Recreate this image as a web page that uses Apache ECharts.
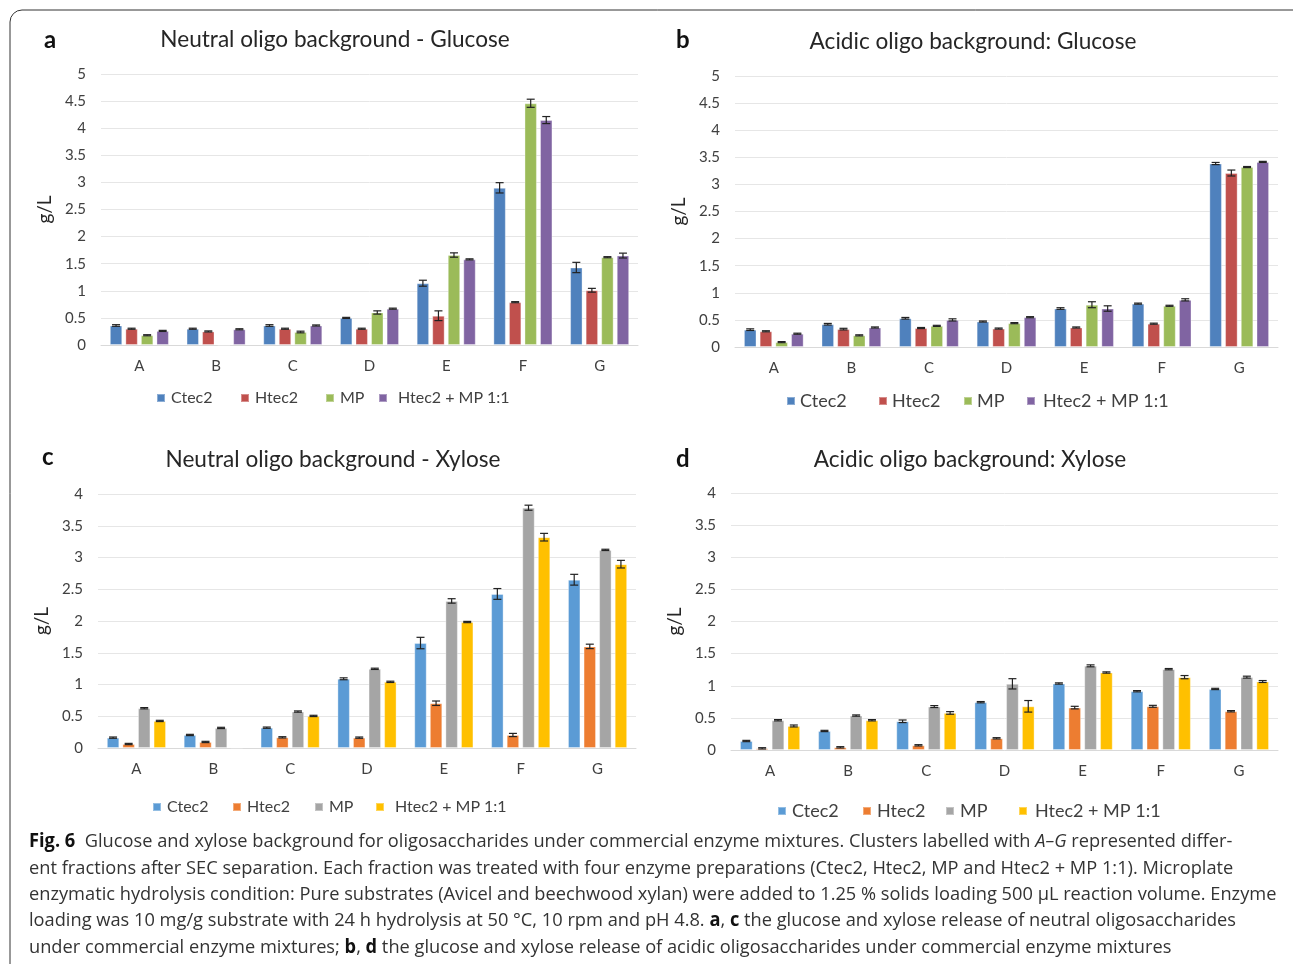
<!DOCTYPE html>
<html>
<head>
<meta charset="utf-8">
<script src="https://cdn.jsdelivr.net/npm/echarts@6/dist/echarts.min.js"></script>
<style>
  html, body { margin: 0; padding: 0; background: #fff; }
  #main { width: 1293px; height: 964px; }
</style>
</head>
<body>
<div id="main"></div>
<script>
const categories = ['A', 'B', 'C', 'D', 'E', 'F', 'G'];
const seriesNames = ['Ctec2', 'Htec2', 'MP', 'Htec2 + MP 1:1'];

// a: neutral oligo background - glucose
const aCtec2 = [0.36, 0.30, 0.36, 0.50, 1.14, 2.90, 1.43];
const aHtec2 = [0.30, 0.25, 0.30, 0.30, 0.54, 0.79, 1.01];
const aMP    = [0.18, 0.00, 0.24, 0.60, 1.66, 4.46, 1.62];
const aHMP   = [0.26, 0.29, 0.36, 0.67, 1.58, 4.15, 1.65];
const aErr = [
  [0.015, 0.01, 0.015, 0.01, 0.055, 0.095, 0.095],
  [0.01, 0.01, 0.01, 0.01, 0.09, 0.01, 0.035],
  [0.01, 0, 0.015, 0.03, 0.04, 0.075, 0.01],
  [0.01, 0.01, 0.01, 0.01, 0.01, 0.065, 0.045]
];

// b: acidic oligo background - glucose
const bCtec2 = [0.32, 0.42, 0.53, 0.47, 0.71, 0.80, 3.385];
const bHtec2 = [0.29, 0.33, 0.35, 0.34, 0.36, 0.43, 3.21];
const bMP    = [0.09, 0.215, 0.39, 0.44, 0.78, 0.76, 3.32];
const bHMP   = [0.245, 0.36, 0.50, 0.55, 0.71, 0.87, 3.415];
const bErr = [
  [0.015, 0.015, 0.015, 0.01, 0.015, 0.01, 0.02],
  [0.01, 0.015, 0.01, 0.01, 0.01, 0.01, 0.055],
  [0.01, 0.01, 0.01, 0.01, 0.055, 0.01, 0.01],
  [0.01, 0.01, 0.02, 0.01, 0.05, 0.02, 0.01]
];

// c: neutral oligo background - xylose
const cCtec2 = [0.163, 0.205, 0.32, 1.09, 1.653, 2.426, 2.65];
const cHtec2 = [0.063, 0.095, 0.168, 0.163, 0.705, 0.205, 1.60];
const cMP    = [0.626, 0.316, 0.574, 1.247, 2.316, 3.784, 3.12];
const cHMP   = [0.426, 0.005, 0.505, 1.042, 1.984, 3.32, 2.895];
const cErr = [
  [0.01, 0.01, 0.01, 0.015, 0.09, 0.085, 0.085],
  [0.01, 0.01, 0.01, 0.01, 0.035, 0.025, 0.035],
  [0.01, 0.01, 0.01, 0.01, 0.035, 0.04, 0.01],
  [0.01, 0.005, 0.01, 0.01, 0.01, 0.06, 0.06]
];

// d: acidic oligo background - xylose
const dCtec2 = [0.14, 0.296, 0.447, 0.744, 1.035, 0.915, 0.95];
const dHtec2 = [0.026, 0.042, 0.073, 0.182, 0.66, 0.68, 0.603];
const dMP    = [0.463, 0.536, 0.676, 1.03, 1.31, 1.258, 1.134];
const dHMP   = [0.374, 0.463, 0.577, 0.68, 1.206, 1.134, 1.066];
const dErr = [
  [0.01, 0.01, 0.02, 0.01, 0.01, 0.01, 0.01],
  [0.01, 0.01, 0.01, 0.01, 0.02, 0.015, 0.01],
  [0.01, 0.01, 0.015, 0.08, 0.015, 0.01, 0.015],
  [0.015, 0.01, 0.02, 0.09, 0.01, 0.025, 0.015]
];

const oldColors = ['#4F81BD', '#C0504D', '#9BBB59', '#8064A2'];
const newColors = ['#5B9BD5', '#ED7D31', '#A5A5A5', '#FFC000'];

const FONT = 'Lato';
const CAT_GAP = 0.23;
const BAR_GAP = 0.25;

const panels = [
  { key: 'a', title: 'Neutral oligo background - Glucose', colors: oldColors,
    data: [aCtec2, aHtec2, aMP, aHMP], err: aErr, max: 5,
    grid: { left: 101, top: 74, width: 537, height: 271 }, titleX: 330, titleY: 23, letterX: 39, letterY: 23,
    legendFont: 16, legendY: 397, legendX: [156, 240, 325, 378], legendPad: [1, 1, 1, 6] },
  { key: 'b', title: 'Acidic oligo background: Glucose', colors: oldColors,
    data: [bCtec2, bHtec2, bMP, bHMP], err: bErr, max: 5,
    grid: { left: 735, top: 76, width: 543, height: 271 }, titleX: 968, titleY: 25, letterX: 671, letterY: 23,
    legendFont: 18, legendY: 400, legendX: [786, 878, 963, 1026], legendPad: [0, 0, 0, 3] },
  { key: 'c', title: 'Neutral oligo background - Xylose', colors: newColors,
    data: [cCtec2, cHtec2, cMP, cHMP], err: cErr, max: 4,
    grid: { left: 98, top: 494, width: 538, height: 254 }, titleX: 328, titleY: 443, letterX: 37, letterY: 440,
    legendFont: 16, legendY: 806, legendX: [152, 232, 314, 375], legendPad: [1, 1, 1, 6] },
  { key: 'd', title: 'Acidic oligo background: Xylose', colors: newColors,
    data: [dCtec2, dHtec2, dMP, dHMP], err: dErr, max: 4,
    grid: { left: 731, top: 493, width: 547, height: 257 }, titleX: 965, titleY: 443, letterX: 671, letterY: 442,
    legendFont: 18, legendY: 810, legendX: [777, 862, 945, 1018], legendPad: [1, 1, 1, 3] }
];

const grid = [], xAxis = [], yAxis = [], series = [], title = [], legend = [];

panels.forEach((p, pi) => {
  grid.push(Object.assign({ containLabel: false }, p.grid));
  xAxis.push({
    type: 'category', gridIndex: pi, data: categories,
    axisTick: { show: false },
    axisLine: { lineStyle: { color: '#D9D9D9', width: 1 } },
    axisLabel: { color: '#404040', fontSize: 15, fontFamily: FONT, margin: 14 }
  });
  yAxis.push({
    type: 'value', gridIndex: pi, min: 0, max: p.max, interval: 0.5,
    name: 'g/L', nameLocation: 'middle', nameRotate: 90, nameGap: 47,
    nameTextStyle: { color: '#262626', fontSize: 19, fontFamily: FONT },
    axisLine: { show: false }, axisTick: { show: false },
    splitLine: { lineStyle: { color: '#E6E6E6', width: 1 } },
    axisLabel: { color: '#404040', fontSize: 15, fontFamily: FONT, margin: 15 }
  });
  title.push({
    text: p.title, left: p.titleX, top: p.titleY, textAlign: 'center',
    textStyle: { fontSize: 22.6, fontWeight: 'normal', color: '#262626', fontFamily: FONT }
  });
  title.push({
    text: p.key, left: p.letterX, top: p.letterY,
    textStyle: { fontSize: 24, fontWeight: 'bold', color: '#111', fontFamily: FONT }
  });
  seriesNames.forEach((n, si) => {
    legend.push({
      left: p.legendX[si], top: p.legendY - (p.legendFont === 16 ? 12 : 13),
      itemWidth: 8, itemHeight: 8, icon: 'rect', selectedMode: false, padding: [5, 0, 5, 0],
      data: [p.key + si],
      formatter: () => n,
      textStyle: { fontSize: p.legendFont, color: '#404040', fontFamily: FONT, padding: [0, 0, 0, p.legendPad[si]] }
    });
  });
  p.data.forEach((vals, si) => {
    series.push({
      name: p.key + si, type: 'bar', xAxisIndex: pi, yAxisIndex: pi,
      data: vals, barCategoryGap: (CAT_GAP * 100) + '%', barGap: (BAR_GAP * 100) + '%',
      itemStyle: { color: p.colors[si], borderColor: 'rgba(255,255,255,0.35)', borderWidth: 1 },
      silent: true, animation: false
    });
  });
  p.data.forEach((vals, si) => {
    const errs = p.err[si];
    series.push({
      type: 'custom', xAxisIndex: pi, yAxisIndex: pi, silent: true, animation: false, z: 5,
      data: vals.map((v, i) => [i, v, errs[i]]),
      renderItem: (params, api) => {
        const band = api.size([1, 0])[0];
        const groupW = band * (1 - CAT_GAP);
        const w = groupW / (4 + 3 * BAR_GAP);
        const off = -groupW / 2 + w / 2 + si * w * (1 + BAR_GAP);
        const c = api.coord([api.value(0), api.value(1)]);
        const e = api.value(2);
        if (api.value(1) <= 0.006) return null;
        const hi = api.coord([api.value(0), api.value(1) + e])[1];
        const lo = api.coord([api.value(0), api.value(1) - e])[1];
        const x = c[0] + off;
        const cap = 4;
        const st = { stroke: '#222', lineWidth: 1.2 };
        return {
          type: 'group', children: [
            { type: 'line', shape: { x1: x, y1: hi, x2: x, y2: lo }, style: st },
            { type: 'line', shape: { x1: x - cap, y1: hi, x2: x + cap, y2: hi }, style: st },
            { type: 'line', shape: { x1: x - cap, y1: lo, x2: x + cap, y2: lo }, style: st }
          ]
        };
      }
    });
  });
});

const captionLines = [
  '{b|Fig. 6}  Glucose and xylose background for oligosaccharides under commercial enzyme mixtures. Clusters labelled with {i|A–G} represented differ-',
  'ent fractions after SEC separation. Each fraction was treated with four enzyme preparations (Ctec2, Htec2, MP and Htec2 + MP 1:1). Microplate',
  'enzymatic hydrolysis condition: Pure substrates (Avicel and beechwood xylan) were added to 1.25 % solids loading 500 µL reaction volume. Enzyme',
  'loading was 10 mg/g substrate with 24 h hydrolysis at 50 °C, 10 rpm and pH 4.8. {b|a}, {b|c} the glucose and xylose release of neutral oligosaccharides',
  'under commercial enzyme mixtures; {b|b}, {b|d} the glucose and xylose release of acidic oligosaccharides under commercial enzyme mixtures'
];
const captionY = [842, 869, 895, 921, 948];

const graphic = [
  { type: 'rect', shape: { x: 10, y: 10, width: 1295, height: 1000, r: 12 },
    style: { fill: 'none', stroke: '#333', lineWidth: 1 }, silent: true }
];
captionLines.forEach((line, i) => {
  graphic.push({
    type: 'text', x: 29, y: captionY[i], scaleX: 0.96, silent: true,
    style: {
      text: line, fill: '#333', fontFamily: 'Open Sans', fontSize: 19,
      verticalAlign: 'middle',
      rich: {
        b: { fontWeight: 'bold', fontSize: 19, fontFamily: 'Open Sans', fill: '#111' },
        i: { fontStyle: 'italic', fontSize: 19, fontFamily: 'Open Sans' }
      }
    }
  });
});

const chart = echarts.init(document.getElementById('main'));
chart.setOption({
  backgroundColor: '#fff',
  animation: false,
  title, legend, grid, xAxis, yAxis, series, graphic
});
</script>
</body>
</html>
